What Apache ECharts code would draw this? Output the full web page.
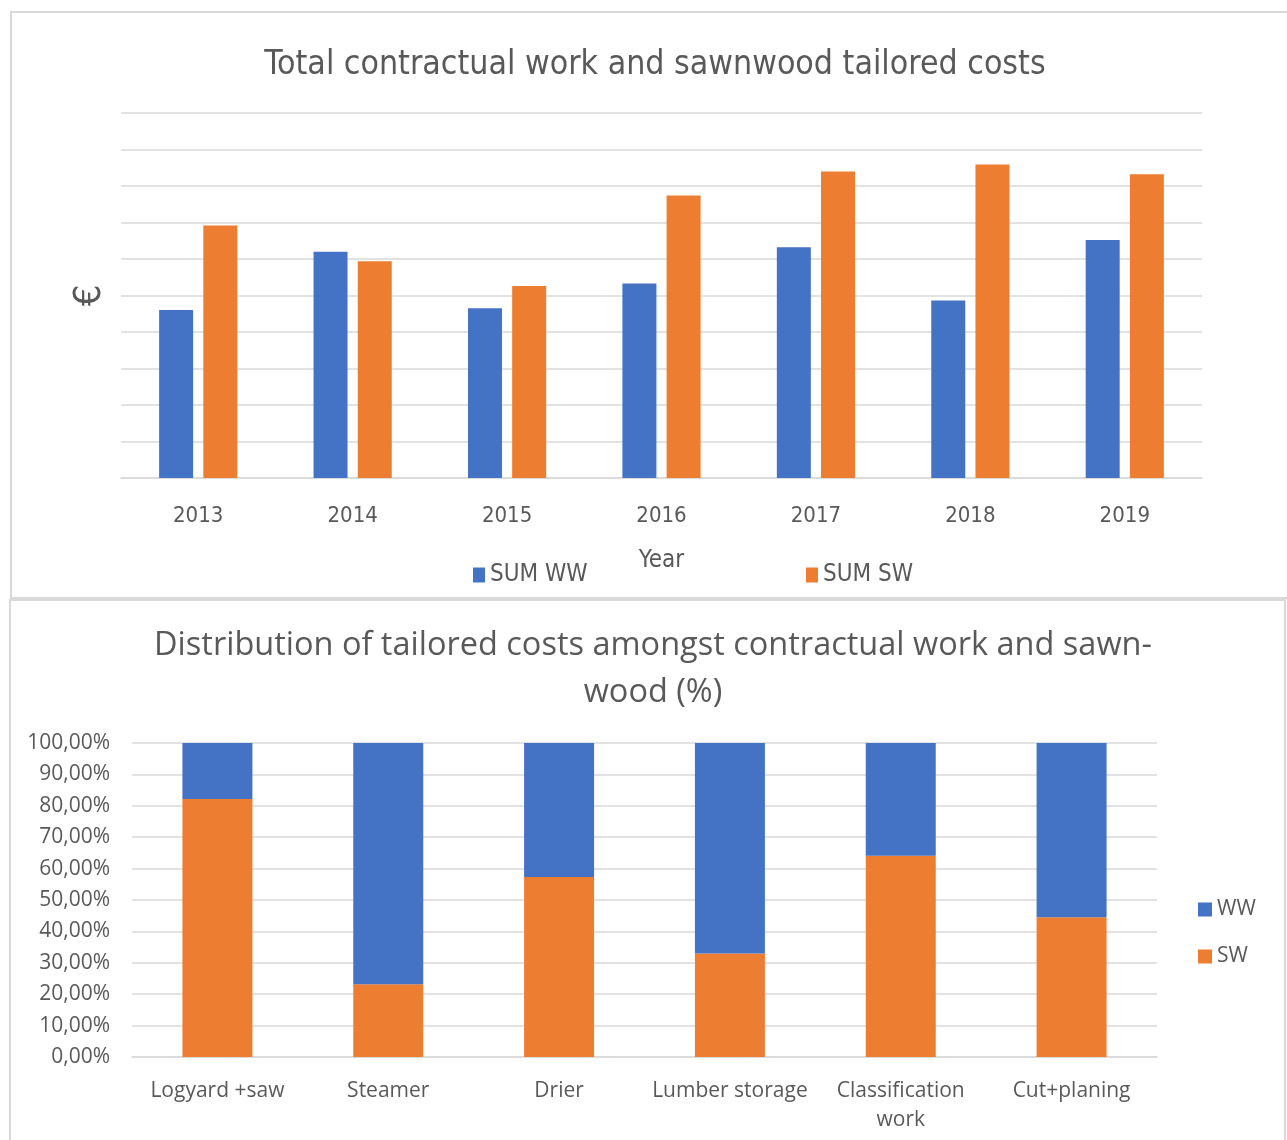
<!DOCTYPE html>
<html>
<head>
<meta charset="utf-8">
<script src="https://cdn.jsdelivr.net/npm/echarts@6/dist/echarts.min.js"></script>
<style>
  html, body { margin: 0; padding: 0; background: #ffffff; }
  #chart { width: 1287px; height: 1140px; }
</style>
</head>
<body>
<div id="chart"></div>
<script>
// Yearly totals (chart units, one gridline step = 1)
const years = ['2013', '2014', '2015', '2016', '2017', '2018', '2019'];
const sumWW = [4.60, 6.20, 4.65, 5.33, 6.32, 4.86, 6.52];
const sumSW = [6.92, 5.94, 5.26, 7.74, 8.40, 8.59, 8.32];

// Share of tailored costs per production stage (%)
const stages = ['Logyard +saw', 'Steamer', 'Drier', 'Lumber storage', 'Classification\nwork', 'Cut+planing'];
const shareSW = [82.2, 23.2, 57.3, 33.0, 64.1, 44.5];
const shareWW = [17.8, 76.8, 42.7, 67.0, 35.9, 55.5];

const BLUE = '#4472C4';
const ORANGE = '#ED7D31';
const GRID = '#d9d9d9';
const TEXT = '#595959';
const NARROW = "'DejaVu Sans Condensed', 'DejaVu Sans', sans-serif";
const BODY = "'Open Sans', 'Noto Sans', sans-serif";

const chart = echarts.init(document.getElementById('chart'), null, { renderer: 'canvas' });

chart.setOption({
  animation: false,
  backgroundColor: '#ffffff',
  graphic: [
    { type: 'rect', shape: { x: 11, y: 12, width: 1300, height: 586 },
      style: { fill: 'none', stroke: GRID, lineWidth: 2 }, z: -1 },
    { type: 'rect', shape: { x: 10, y: 600, width: 1275, height: 600 },
      style: { fill: 'none', stroke: GRID, lineWidth: 2 }, z: -1 }
  ],
  title: [
    {
      text: 'Total contractual work and sawnwood tailored costs',
      left: 650, top: 43, textAlign: 'center',
      textStyle: { fontFamily: NARROW, fontSize: 33.6, fontWeight: 'normal', color: TEXT }
    },
    {
      text: 'Distribution of tailored costs amongst contractual work and sawn-\nwood (%)',
      left: 648, top: 617, textAlign: 'center',
      textStyle: { fontFamily: BODY, fontSize: 32.5, fontWeight: 'normal', color: TEXT, lineHeight: 47 }
    }
  ],
  legend: [
    {
      data: ['SUM WW'], left: 473, top: 563, padding: 0, icon: 'rect', itemWidth: 12, itemHeight: 15, itemGap: 5,
      textStyle: { fontFamily: NARROW, fontSize: 24, color: TEXT }
    },
    {
      data: ['SUM SW'], left: 806, top: 563, padding: 0, icon: 'rect', itemWidth: 12, itemHeight: 15, itemGap: 5,
      textStyle: { fontFamily: NARROW, fontSize: 24, color: TEXT }
    },
    {
      data: ['WW', 'SW'], left: 1198, top: 899, padding: 0, orient: 'vertical', icon: 'rect',
      itemWidth: 14, itemHeight: 14, itemGap: 26,
      textStyle: { fontFamily: BODY, fontSize: 21, color: TEXT }
    }
  ],
  grid: [
    { left: 121, right: 85, top: 113, bottom: 1140 - 478 },
    { left: 132, right: 130, top: 743, bottom: 1140 - 1057 }
  ],
  xAxis: [
    {
      type: 'category', gridIndex: 0, data: years,
      name: 'Year', nameLocation: 'middle', nameGap: 71,
      nameTextStyle: { fontFamily: NARROW, fontSize: 24, color: TEXT },
      axisLine: { lineStyle: { color: GRID, width: 1.5 } },
      axisTick: { show: false },
      axisLabel: { fontFamily: NARROW, fontSize: 22, color: TEXT, margin: 27 }
    },
    {
      type: 'category', gridIndex: 1, data: stages,
      axisLine: { lineStyle: { color: GRID, width: 1.5 } },
      axisTick: { show: false },
      axisLabel: { fontFamily: BODY, fontSize: 21, color: TEXT, margin: 20, lineHeight: 29, interval: 0 }
    }
  ],
  yAxis: [
    {
      type: 'value', gridIndex: 0, min: 0, max: 10, interval: 1,
      name: '€', nameLocation: 'middle', nameGap: 12,
      nameTextStyle: { fontFamily: NARROW, fontSize: 38, color: TEXT },
      axisLabel: { show: false },
      axisLine: { show: false }, axisTick: { show: false },
      splitLine: { lineStyle: { color: GRID, width: 1.5 } }
    },
    {
      type: 'value', gridIndex: 1, min: 0, max: 100, interval: 10,
      axisLabel: {
        fontFamily: BODY, fontSize: 21, color: TEXT, margin: 22,
        formatter: v => v.toFixed(2).replace('.', ',') + '%'
      },
      axisLine: { show: false }, axisTick: { show: false },
      splitLine: { lineStyle: { color: GRID, width: 1.5 } }
    }
  ],
  series: [
    { name: 'SUM WW', type: 'bar', xAxisIndex: 0, yAxisIndex: 0, data: sumWW,
      barWidth: 34, barGap: '30%', itemStyle: { color: BLUE } },
    { name: 'SUM SW', type: 'bar', xAxisIndex: 0, yAxisIndex: 0, data: sumSW,
      barWidth: 34, barGap: '30%', itemStyle: { color: ORANGE } },
    { name: 'SW', type: 'bar', xAxisIndex: 1, yAxisIndex: 1, stack: 'share', data: shareSW,
      barWidth: 70, itemStyle: { color: ORANGE } },
    { name: 'WW', type: 'bar', xAxisIndex: 1, yAxisIndex: 1, stack: 'share', data: shareWW,
      barWidth: 70, itemStyle: { color: BLUE } }
  ]
});
</script>
</body>
</html>
